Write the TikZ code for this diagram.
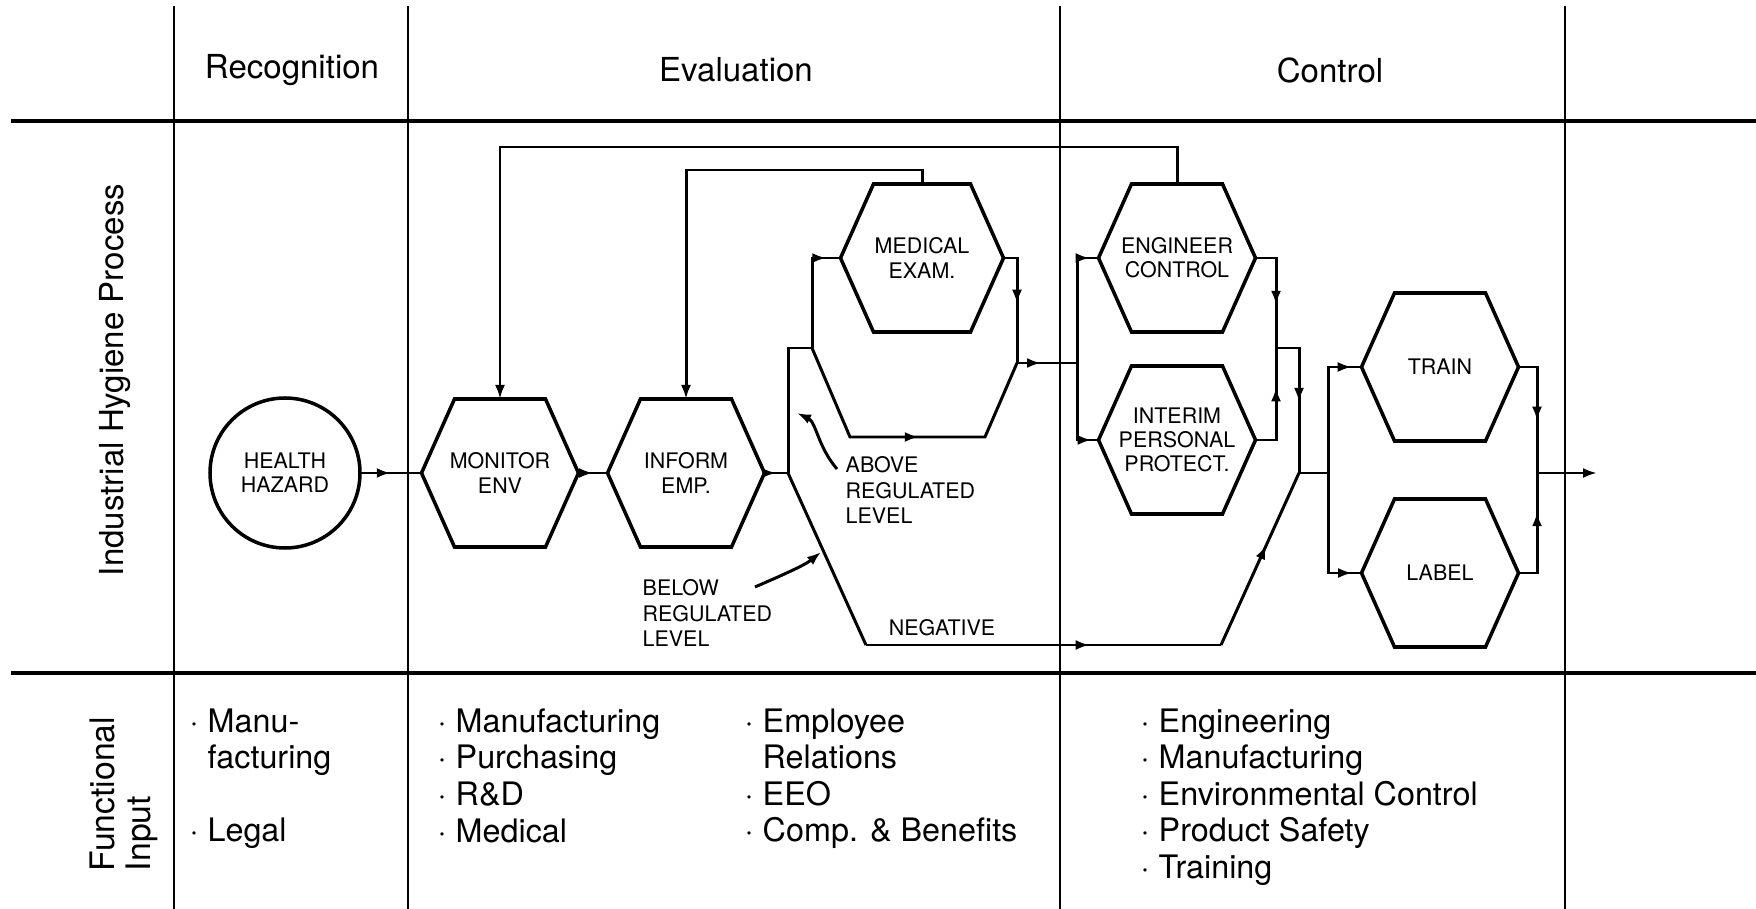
\documentclass[tikz,border=0pt]{standalone}
\usepackage{fontspec}
\setmainfont{TeX Gyre Heros}
\usetikzlibrary{arrows.meta,decorations.markings}
\tikzset{
  boxnode/.style = {align=center, inner sep=0pt, outer sep=0pt, text centered, font=\fontsize{6.1}{6.9}\selectfont},
  hex_n/.style = {boxnode, rectangle, minimum width=15.7mm, minimum height=14.8mm},
  cir_n/.style = {boxnode, circle, draw=black, line width=1pt, minimum size=15mm},
  hex_line/.style = {draw=black, line width=1pt},
  flow_l/.style = {draw=black, line width=0.85pt},
  grid_l/.style = {draw=black, line width=0.75pt},
  head_t/.style = {inner sep=0pt, font=\fontsize{9.4}{11}\selectfont},
  list_t/.style = {inner sep=0pt, anchor=north west, align=left, font=\fontsize{9.2}{10.4}\selectfont},
  note_t/.style = {inner sep=0pt, align=left, font=\fontsize{6.1}{7.2}\selectfont},
  arrowat/.style = {postaction={decorate, decoration={markings, mark=at position #1 with {\arrow{Latex[length=1.4mm, width=1mm]}}}}},
  arrowat/.default = 0.5,
  tipend/.style = {-{Latex[length=1.4mm, width=1mm]}}
}
\begin{document}
\begin{tikzpicture}[x=0.1mm, y=-0.1mm]
	\useasboundingbox (0,0) rectangle (1756,909);
	\draw [grid_l, line width=1.1pt] (11,121) -- (1756,121);
	\draw [grid_l, line width=1.1pt] (11,673) -- (1756,673);
	\foreach \x in {174,408,1060,1565}
		\draw [grid_l] (\x,6) -- (\x,909);

	\node [head_t] (recog) at (292,70) {Recognition};
	\node [head_t] (evalu) at (736,70) {Evaluation};
	\node [head_t] (contr) at (1330,70) {Control};
	\node [head_t, rotate=90] (process) at (115,380) {Industrial Hygiene Process};
	\node [head_t, rotate=90, anchor=west, align=left, font=\fontsize{9.6}{10.3}\selectfont] (input) at (124,872) {Functional\\Input};

	\node [cir_n] (hazard) at (285,473) {HEALTH\\HAZARD};
	\node [hex_n] (monitor) at (500,473) {MONITOR\\ENV};
	\node [hex_n] (inform) at (686,473) {INFORM\\EMP.};
	\node [hex_n, minimum width=16.3mm] (medical) at (922,258) {MEDICAL\\EXAM.};
	\node [hex_n] (engineer) at (1177,258) {ENGINEER\\CONTROL};
	\node [hex_n] (interim) at (1177,440) {INTERIM\\PERSONAL\\PROTECT.};
	\node [hex_n] (train) at (1440,367) {TRAIN};
	\node [hex_n] (labeling) at (1440,573) {LABEL};
	\foreach \n in {monitor,inform,medical,engineer,interim,train,labeling}
		\draw [hex_line] (\n.west) -- ([xshift=3.3mm]\n.north west) -- ([xshift=-3.3mm]\n.north east)
			-- (\n.east) -- ([xshift=-3.3mm]\n.south east) -- ([xshift=3.3mm]\n.south west) -- cycle;

	\coordinate (splitA) at (788,473);
	\coordinate (stepA) at (812,348);
	\coordinate (byA) at (850,437);
	\coordinate (byB) at (985,437);
	\coordinate (joinA) at (1017,363);
	\coordinate (ctrlSplit) at (1077,363);
	\coordinate (mergeA) at (1276,348);
	\coordinate (mergeB) at (1299,473);
	\coordinate (negA) at (866,645);
	\coordinate (negB) at (1221,645);
	\coordinate (trainSplit) at (1328,473);
	\coordinate (outJoin) at (1537,473);
	\coordinate (outEnd) at (1597,473);
	\coordinate (fbOuter) at (0,147);
	\coordinate (fbInner) at (0,170);

	\draw [flow_l, arrowat] (hazard.east) -- (monitor.west);
	\draw [flow_l, arrowat] (monitor.east) -- (inform.west);
	\draw [flow_l, arrowat] (inform.east) -- (splitA);
	\draw [flow_l] (splitA) |- (stepA);
	\draw [flow_l, arrowat=0.88] (stepA) |- (medical.west);
	\draw [flow_l, arrowat=0.53] (stepA) -- (byA) -- (byB) -- (joinA);
	\draw [flow_l, arrowat=0.5] (medical.east) -| (joinA);
	\draw [flow_l, arrowat=0.4] (joinA) -- (ctrlSplit);
	\draw [flow_l, arrowat=0.93] (ctrlSplit) |- (engineer.west);
	\draw [flow_l, arrowat=0.93] (ctrlSplit) |- (interim.west);
	\draw [flow_l, arrowat=0.61] (engineer.east) -| (mergeA);
	\draw [flow_l, arrowat=0.65] (interim.east) -| (mergeA);
	\draw [flow_l, arrowat=0.52] (mergeA) -| (mergeB);
	\draw [flow_l] (splitA) -- (negA);
	\draw [flow_l, arrowat=0.63] (negA) -- (negB);
	\draw [flow_l, arrowat=0.58] (negB) -- (mergeB);
	\draw [flow_l] (mergeB) -- (trainSplit);
	\draw [flow_l, arrowat=0.93] (trainSplit) |- (train.west);
	\draw [flow_l, arrowat=0.93] (trainSplit) |- (labeling.west);
	\draw [flow_l, arrowat=0.58] (train.east) -| (outJoin);
	\draw [flow_l, arrowat=0.67] (labeling.east) -| (outJoin);
	\draw [flow_l, tipend] (outJoin) -- (outEnd);
	\draw [flow_l, tipend] (engineer.north) -- (engineer.north |- fbOuter) -| (monitor.north);
	\draw [flow_l, tipend] (medical.north) -- (medical.north |- fbInner) -| (inform.north);

	\node [note_t, anchor=west] (above) at (845,490) {ABOVE\\REGULATED\\LEVEL};
	\node [note_t, anchor=west] (below) at (642,613) {BELOW\\REGULATED\\LEVEL};
	\node [note_t] (negative) at (942,628) {NEGATIVE};
	\coordinate (aboveTip) at (797,413);
	\coordinate (belowTip) at (821,552);
	\draw [flow_l, tipend] (above.north west) ++(-8,13) .. controls (818,447) and (816,422) .. (aboveTip);
	\draw [flow_l, tipend] (below.north west) ++(113,8) .. controls (785,574) and (805,565) .. (belowTip);

	\node [list_t] (recoglist) at (189,708) {· Manu-\\\hphantom{· }facturing\\[10.4pt]· Legal};
	\node [list_t] (evallist) at (437,708) {· Manufacturing\\· Purchasing\\· R\&D\\· Medical};
	\node [list_t] (emplist) at (744,708) {· Employee\\\hphantom{· }Relations\\· EEO\\· Comp. \& Benefits};
	\node [list_t] (ctrllist) at (1140,708) {· Engineering\\· Manufacturing\\· Environmental Control\\· Product Safety\\· Training};
\end{tikzpicture}
\end{document}
